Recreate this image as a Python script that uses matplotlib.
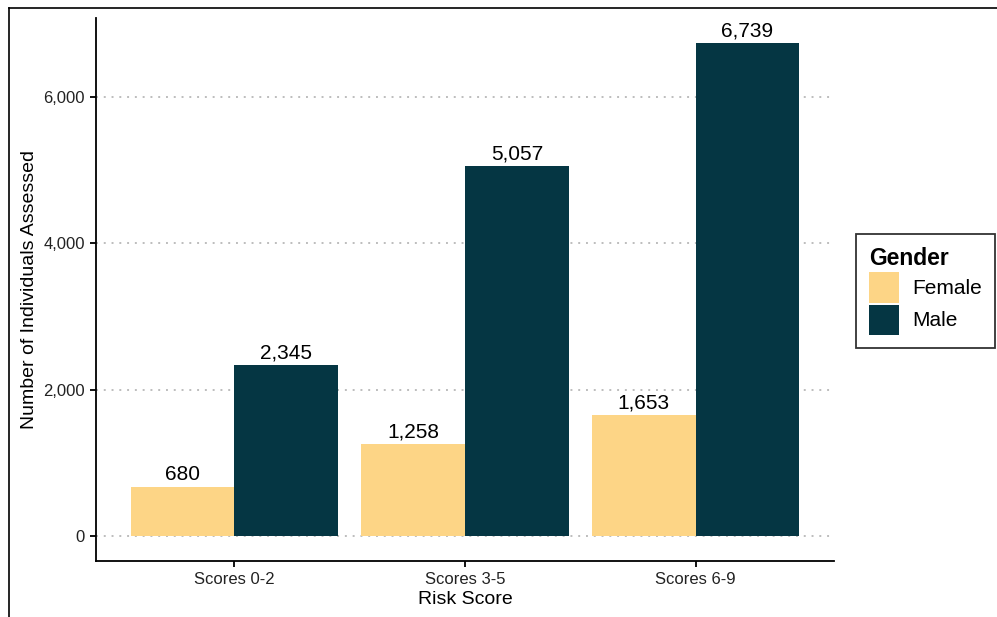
import matplotlib.pyplot as plt
import matplotlib.lines as mlines
import numpy as np
from matplotlib.patches import Patch
from matplotlib.ticker import FuncFormatter

plt.rcParams["font.family"] = ["Liberation Sans", "DejaVu Sans"]

categories = ["Scores 0-2", "Scores 3-5", "Scores 6-9"]
female = [680, 1258, 1653]
male = [2345, 5057, 6739]
colors = {"Female": "#FDD586", "Male": "#053643"}

fig = plt.figure(figsize=(9.97, 6.17), dpi=100)
ax = fig.add_axes([96 / 997, 1 - 561 / 617, (834 - 96) / 997, (561 - 18) / 617])

x = np.arange(1, len(categories) + 1)
w = 0.45
b1 = ax.bar(x - w / 2, female, width=w, color=colors["Female"], zorder=2)
b2 = ax.bar(x + w / 2, male, width=w, color=colors["Male"], zorder=2)

for bars, vals in [(b1, female), (b2, male)]:
    for rect, v in zip(bars, vals):
        ax.text(rect.get_x() + rect.get_width() / 2, v + 35, f"{v:,}",
                ha="center", va="bottom", fontsize=15, color="black")

ax.set_xlim(0.4, 3.6)
ax.set_ylim(-337, 7077)
ax.set_xticks(x)
ax.set_xticklabels(categories)
ax.set_yticks([0, 2000, 4000, 6000])
ax.yaxis.set_major_formatter(FuncFormatter(lambda v, p: f"{int(v):,}"))
ax.grid(axis="y", linestyle=(0, (1, 3)), color="#BDBDBD", linewidth=1.4, zorder=0)
ax.set_axisbelow(True)

for s in ["top", "right"]:
    ax.spines[s].set_visible(False)
for s in ["left", "bottom"]:
    ax.spines[s].set_linewidth(1.3)
ax.tick_params(axis="both", length=4, width=1.3, labelsize=12, colors="black",
               labelcolor="#222222", pad=4)
ax.set_xlabel("Risk Score", fontsize=14, labelpad=3)
ax.set_ylabel("Number of Individuals Assessed", fontsize=14, labelpad=4)

handles = [Patch(facecolor=colors["Female"], label="Female"),
           Patch(facecolor=colors["Male"], label="Male")]
leg = fig.legend(handles=handles, title="Gender", loc="center left",
                 bbox_to_anchor=(856 / 997, 1 - 291 / 617), fontsize=15,
                 title_fontproperties={"weight": "bold", "size": 16.5},
                 frameon=True, fancybox=False, handlelength=1.45, handleheight=1.84,
                 handletextpad=0.65, labelspacing=0.1, borderpad=0.62,
                 borderaxespad=0)
leg._legend_box.align = "left"
leg.get_frame().set_edgecolor("black")
leg.get_frame().set_linewidth(1.3)

# outer frame lines (top and left)
fig.add_artist(mlines.Line2D([9 / 997, 1], [1 - 7.5 / 617, 1 - 7.5 / 617],
                             color="black", lw=1.2, transform=fig.transFigure))
fig.add_artist(mlines.Line2D([9 / 997, 9 / 997], [0, 1 - 7.5 / 617],
                             color="black", lw=1.2, transform=fig.transFigure))

fig.savefig("out.png", dpi=100)
